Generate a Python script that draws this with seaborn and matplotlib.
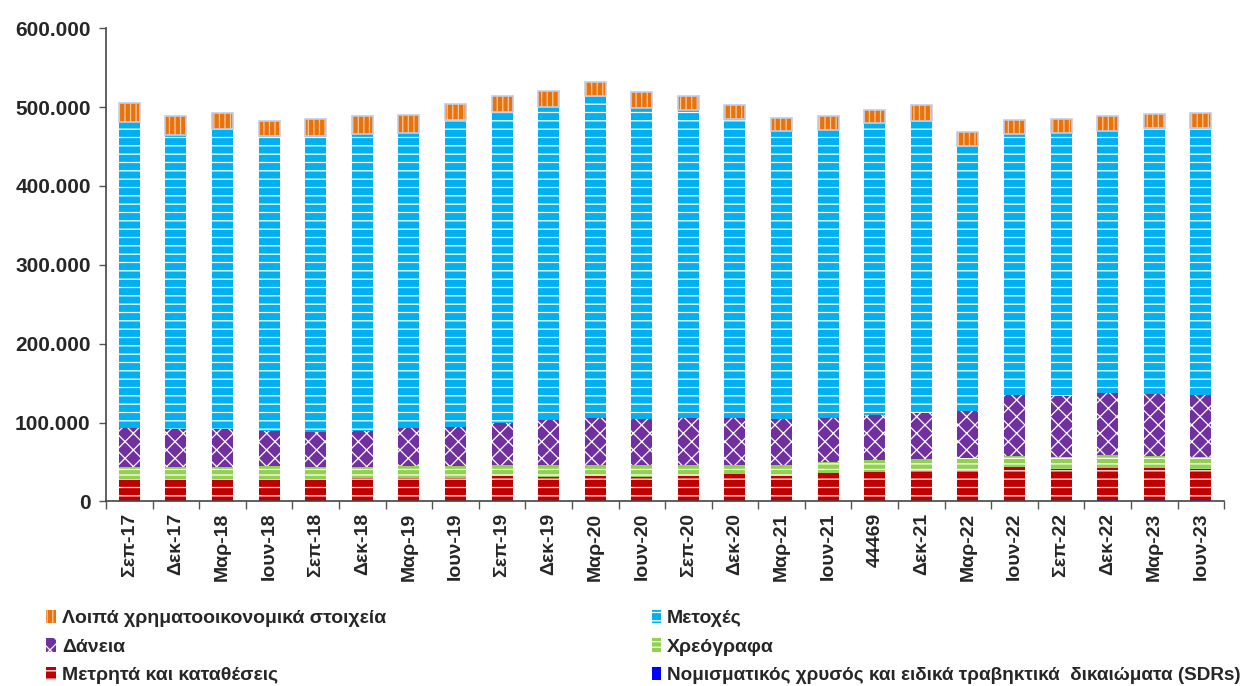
import matplotlib
matplotlib.use("Agg")
import matplotlib.pyplot as plt
import matplotlib.ticker as mticker
from matplotlib.patches import Patch
import numpy as np
import seaborn as sns

categories = ["Σεπ-17", "Δεκ-17", "Μαρ-18", "Ιουν-18", "Σεπ-18", "Δεκ-18", "Μαρ-19", "Ιουν-19",
              "Σεπ-19", "Δεκ-19", "Μαρ-20", "Ιουν-20", "Σεπ-20", "Δεκ-20", "Μαρ-21", "Ιουν-21",
              "44469", "Δεκ-21", "Μαρ-22", "Ιουν-22", "Σεπ-22", "Δεκ-22", "Μαρ-23", "Ιουν-23"]

sdr = [0, 0, 0, 0, 0, 0, 0, 0, 0, 0, 0, 0, 0, 0, 0, 0, 0, 0, 0, 0, 0, 1500, 1500, 1500]
cash = [28300, 28300, 29000, 28700, 28300, 29500, 29400, 29400, 32700, 30600, 32700, 30600,
        32700, 34400, 32700, 35700, 37700, 39900, 40000, 43400, 41000, 41500, 41500, 39500]
bonds = [15900, 15900, 15200, 16800, 15900, 14700, 15600, 15600, 13100, 15200, 13100, 15200,
         13100, 11400, 13100, 14700, 14400, 13600, 15600, 13600, 15000, 16000, 15000, 15000]
loans = [48500, 47200, 47600, 44200, 44200, 45500, 48400, 49700, 53900, 57200, 60200, 58600,
         60200, 60200, 58600, 55600, 57400, 58500, 58900, 77700, 77500, 79000, 77600, 78700]
shares = [388300, 373400, 380600, 373000, 374300, 376300, 373400, 388300, 393700, 397600, 407700, 394600,
          389600, 378200, 364600, 365000, 370000, 370000, 335500, 331300, 333300, 331400, 338100, 339000]
other = [24700, 23200, 20300, 20200, 21900, 22000, 23200, 21000, 20300, 19400, 17700, 19700,
         18100, 18600, 16800, 17000, 17000, 20800, 18000, 17000, 17800, 18600, 17700, 19000]

labels = ["Νομισματικός χρυσός και ειδικά τραβηκτικά  δικαιώματα (SDRs)",
          "Μετρητά και καταθέσεις", "Χρεόγραφα", "Δάνεια", "Μετοχές",
          "Λοιπά χρηματοοικονομικά στοιχεία"]
colors = ["#0000FF", "#C00000", "#92D050", "#7030A0", "#00B0F0", "#E8720C"]
hatches = ["", "--", "---", "xx", "--", "|||"]

sns.set_theme(style="ticks")
plt.rcParams["font.family"] = ["Liberation Sans", "DejaVu Sans"]
plt.rcParams["hatch.linewidth"] = 0.9

fig = plt.figure(figsize=(12.53, 6.86), dpi=100)
ax = fig.add_axes([0.0846, 0.269, 0.8924, 0.690])

series = [sdr, cash, bonds, loans, shares, other]
cum = np.cumsum(np.array(series, dtype=float), axis=0)

# draw from top layer down so each lower cumulative bar covers the part below
for i in range(len(series) - 1, -1, -1):
    hatch_col = "white" if i != 5 else "#F8C9A0"
    sns.barplot(x=categories, y=cum[i], color=colors[i], saturation=1, width=0.45,
                ax=ax, hatch=hatches[i], edgecolor=hatch_col, linewidth=0)
# light outline around the top (orange) segments
ax.bar(np.arange(len(categories)), other, bottom=cum[4], width=0.45, fill=False,
       edgecolor="#C5CCE0", linewidth=1.2)

ax.set_ylim(0, 600000)
ax.set_xlim(-0.5, len(categories) - 0.5)
ax.yaxis.set_major_locator(mticker.MultipleLocator(100000))
ax.yaxis.set_major_formatter(mticker.FuncFormatter(lambda v, p: f"{int(v):,}".replace(",", ".")))
ax.set_xticks(np.arange(len(categories)))
ax.set_xticklabels(categories, rotation=90, fontsize=14, fontweight="bold")
ax.set_xticks(np.arange(len(categories) + 1) - 0.5, minor=True)
ax.tick_params(axis="x", which="major", length=0, pad=8)
ax.tick_params(axis="x", which="minor", length=6, width=1, color="#555555", direction="out")
ax.tick_params(axis="y", length=5, width=1, color="#555555", labelsize=15, pad=6)
for t in ax.get_yticklabels():
    t.set_fontweight("bold")
ax.set_xlabel("")
ax.set_ylabel("")
sns.despine(ax=ax)
for s in ["left", "bottom"]:
    ax.spines[s].set_color("#444444")
    ax.spines[s].set_linewidth(1.2)

def handle(i):
    hc = "white" if i != 5 else "#F8C9A0"
    return Patch(facecolor=colors[i], hatch=hatches[i], edgecolor=hc, linewidth=0)

leg_kw = dict(frameon=False, handlelength=0.5, handleheight=0.7, handletextpad=0.3,
              labelspacing=0.56, prop={"weight": "bold", "size": 14}, loc="upper left",
              borderaxespad=0, borderpad=0)
leg1 = fig.legend([handle(5), handle(3), handle(1)], [labels[5], labels[3], labels[1]],
                  bbox_to_anchor=(0.037, 0.111), **leg_kw)
leg2 = fig.legend([handle(4), handle(2), handle(0)], [labels[4], labels[2], labels[0]],
                  bbox_to_anchor=(0.52, 0.111), **leg_kw)
leg2.get_texts()[2].set_fontsize(13.6)

fig.savefig("out.png", dpi=100)
